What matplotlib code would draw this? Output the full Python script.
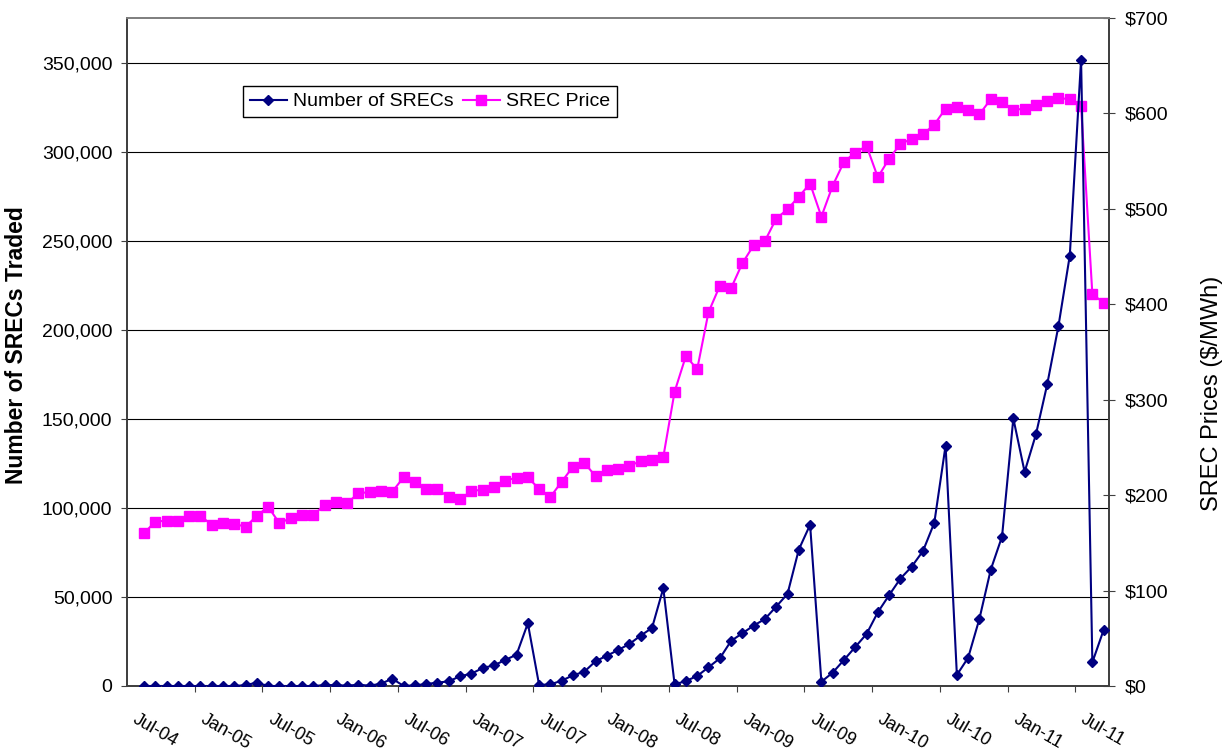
import numpy as np
import matplotlib.pyplot as plt
from matplotlib.ticker import FuncFormatter

plt.rcParams['font.family'] = ['Liberation Sans', 'DejaVu Sans']

# -------------------------
# DATA (monthly values)
# -------------------------
srecs = [0, 0, 0, 0, 0, 0, 0, 0, 0, 500,
         1900, 0, 0, 0, 0, 0, 500, 500, 200, 700,
         200, 1300, 4100, 0, 400, 1100, 1900, 2600, 5500, 6900,
         10100, 11600, 14600, 17600, 35200, 600, 900, 3000, 6000, 8000,
         13900, 17000, 20200, 23600, 28300, 32600, 54900, 900, 2800, 5600,
         10500, 15500, 25300, 29600, 33900, 37600, 44600, 51700, 76600, 90500,
         2400, 7500, 14600, 21900, 29200, 41400, 51000, 60300, 67000, 75800,
         91600, 135000, 6200, 15900, 37800, 65300, 83900, 150200, 120200, 141200,
         169300, 202200, 241600, 351700, 13300, 31500]

price = [160.0, 172.2, 173.3, 173.3, 178.2, 178.2, 169.1, 171.2, 169.8, 167.0,
         178.2, 187.9, 170.5, 176.1, 178.9, 178.9, 190.0, 192.5, 191.8, 201.9,
         203.3, 204.7, 203.7, 218.7, 214.1, 206.1, 206.1, 197.8, 195.7, 204.4,
         205.7, 208.5, 215.2, 218.3, 218.7, 206.5, 198.1, 214.1, 229.8, 234.0,
         219.8, 226.4, 227.4, 230.9, 235.5, 236.8, 240.0, 308.4, 345.8, 331.9,
         391.6, 419.2, 416.8, 443.0, 461.8, 466.4, 489.7, 499.6, 512.8, 526.4,
         491.8, 524.3, 549.2, 558.9, 565.9, 533.1, 552.6, 568.0, 573.3, 578.2,
         588.3, 605.0, 606.5, 603.3, 599.1, 614.9, 611.7, 603.6, 605.0, 609.2,
         613.4, 616.2, 614.9, 607.8, 410.5, 401.7]

month_labels = ['Jul-04', 'Jan-05', 'Jul-05', 'Jan-06', 'Jul-06', 'Jan-07',
                'Jul-07', 'Jan-08', 'Jul-08', 'Jan-09', 'Jul-09', 'Jan-10',
                'Jul-10', 'Jan-11', 'Jul-11']

x = np.arange(len(srecs))
AXIS_COL = '#404040'

# -------------------------
# FIGURE
# -------------------------
W, H = 1229, 754
fig = plt.figure(figsize=(W / 100, H / 100), dpi=100)
ax = fig.add_axes([127 / W, 68 / H, (1109.3 - 127) / W, (686 - 18) / H])

ax.set_xlim(-1.5, len(srecs) - 0.5)
ax.set_ylim(0, 375000)
ax.set_yticks(range(0, 350001, 50000))
ax.yaxis.set_major_formatter(FuncFormatter(lambda v, p: f'{int(v):,}'))
ax.yaxis.grid(True, color='black', lw=0.8)
ax.set_axisbelow(True)
ax.set_xticks(np.arange(4.5, len(srecs) - 1, 6))
ax.set_xticklabels([])
ax.tick_params(axis='x', direction='out', length=4.5, color=AXIS_COL)
ax.tick_params(axis='y', direction='out', length=4.5, pad=6, labelsize=14,
               color=AXIS_COL)

# price on the right-hand scale
ax2 = ax.twinx()
ax2.set_ylim(0, 700)
ax2.set_yticks(range(0, 701, 100))
ax2.yaxis.set_major_formatter(FuncFormatter(lambda v, p: f'${int(v)}'))
ax2.tick_params(axis='y', direction='inout', length=8.6, pad=6.5, labelsize=14,
                color=AXIS_COL)
l_price, = ax2.plot(x, price, color='#FF00FF', marker='s', ms=7.7, lw=1.5,
                    label='SREC Price')

# counts drawn on top, same scale as the left axis
ax3 = fig.add_axes(ax.get_position(), sharex=ax, sharey=ax)
ax3.set_axis_off()
l_srec, = ax3.plot(x, srecs, color='#000080', marker='D', ms=5.5, lw=1.5,
                   label='Number of SRECs')

for a in (ax, ax2):
    for side, sp in a.spines.items():
        sp.set_color('#808080' if side == 'top' else AXIS_COL)
        sp.set_linewidth(1.3)

# rotated month labels
for k, lab in enumerate(month_labels):
    ax.annotate(lab, xy=(6 * k - 1, 0), xycoords=('data', 'axes fraction'),
                xytext=(1, -23), textcoords='offset points', rotation=-30,
                rotation_mode='anchor', ha='left', va='center', fontsize=13,
                annotation_clip=False)

fig.text(17 / W, 1 - 345 / H, 'Number of SRECs Traded', rotation=90,
         ha='center', va='center', fontsize=16.5, fontweight='bold')
fig.text(1212 / W, 1 - 393 / H, 'SREC Prices ($/MWh)', rotation=90,
         ha='center', va='center', fontsize=17)

fig.legend(handles=[l_srec, l_price], loc='upper left',
           bbox_to_anchor=(243 / W, 1 - 86 / H), ncol=2, fontsize=14,
           frameon=True, fancybox=False, edgecolor='black', framealpha=1,
           handlelength=1.9, handletextpad=0.3, columnspacing=0.5,
           borderpad=0.35, borderaxespad=0)

fig.savefig('out.png', dpi=100)
